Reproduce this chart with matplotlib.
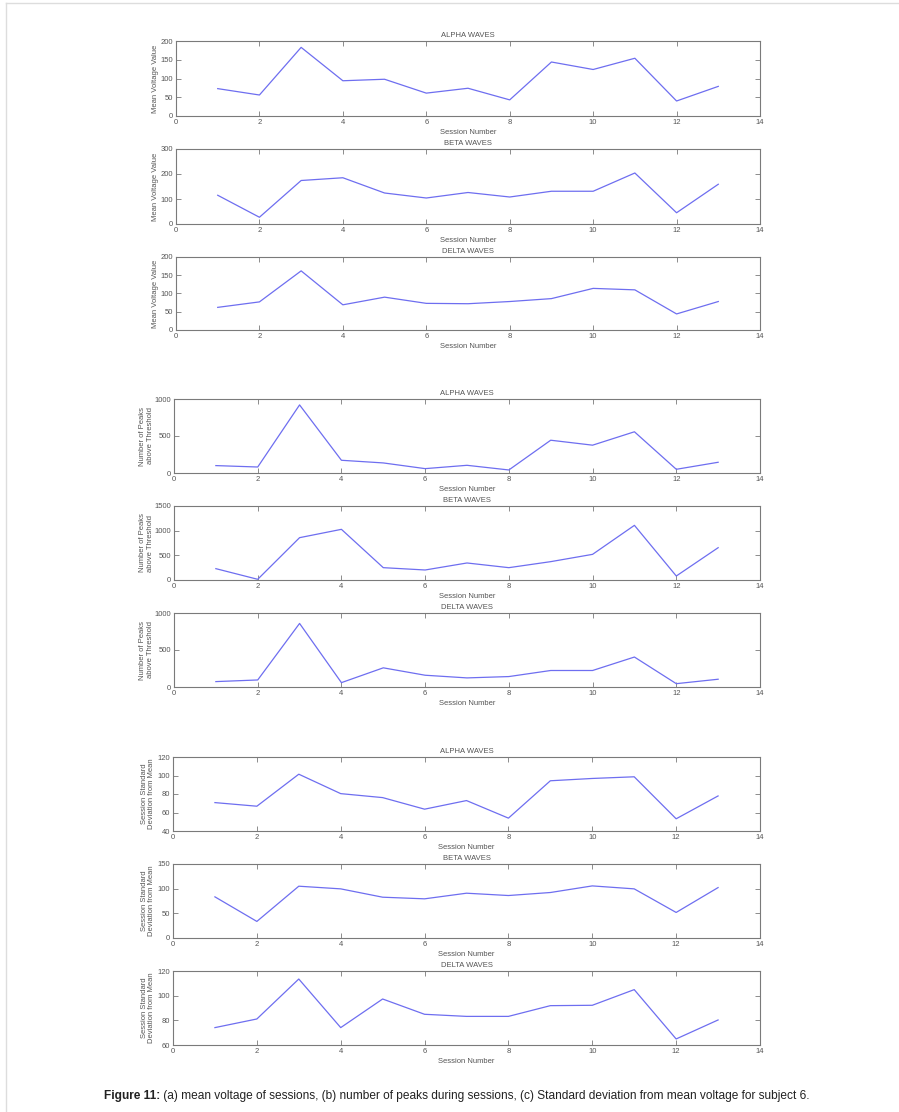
import matplotlib
matplotlib.use("Agg")
import matplotlib.pyplot as plt
from matplotlib.lines import Line2D
from matplotlib import font_manager

# ---------------- data ----------------
sessions = list(range(1, 14))

mean_alpha = [73, 56, 183, 94, 98, 61, 74, 43, 144, 124, 154, 40, 79]
mean_beta = [115, 27, 174, 185, 124, 104, 126, 108, 131, 131, 204, 45, 159]
mean_delta = [62, 77, 162, 69, 90, 73, 72, 78, 86, 114, 110, 44, 78]

peaks_alpha = [100, 81, 920, 172, 136, 59, 104, 41, 443, 376, 557, 50, 145]
peaks_beta = [230, 14, 858, 1027, 250, 203, 345, 250, 372, 520, 1108, 81, 655]
peaks_delta = [73, 95, 859, 59, 259, 159, 123, 141, 223, 223, 405, 45, 105]

std_alpha = [70.7, 66.8, 101.4, 80.4, 76.1, 63.6, 72.9, 53.9, 94.3, 96.8, 98.6, 53.2, 77.9]
std_beta = [83.4, 33.6, 105.0, 99.6, 82.7, 79.4, 90.8, 86.1, 92.2, 105.6, 99.6, 51.8, 102.2]
std_delta = [74.1, 81.1, 113.5, 74.1, 97.3, 84.9, 83.2, 83.2, 91.9, 92.2, 104.9, 64.9, 80.3]

titles = ["ALPHA WAVES", "BETA WAVES", "DELTA WAVES"]
xlabel_text = "Session Number"
ylabels = ["Mean Voltage Value", "Number of Peaks\nabove Threshold",
           "Session Standard\nDeviation from Mean"]
x_ticks = [0, 2, 4, 6, 8, 10, 12, 14]
y_ticks = [
    [0, 50, 100, 150, 200], [0, 100, 200, 300], [0, 50, 100, 150, 200],
    [0, 500, 1000], [0, 500, 1000, 1500], [0, 500, 1000],
    [40, 60, 80, 100, 120], [0, 50, 100, 150], [60, 80, 100, 120],
]
caption_bold = "Figure 11:"
caption_rest = (" (a) mean voltage of sessions, (b) number of peaks during sessions, "
                "(c) Standard deviation from mean voltage for subject 6.")

series = [mean_alpha, mean_beta, mean_delta,
          peaks_alpha, peaks_beta, peaks_delta,
          std_alpha, std_beta, std_delta]

# ---------------- layout ----------------
W, H = 899, 1112
fig = plt.figure(figsize=(W / 100, H / 100), dpi=100)
fig.patch.set_facecolor("white")

avail = {f.name for f in font_manager.fontManager.ttflist}
small_font = ["Liberation Sans Narrow"] if "Liberation Sans Narrow" in avail else []
small_font += ["Liberation Sans", "DejaVu Sans"]

# pixel boxes (left, right, top, bottom)
boxes = [
    (176, 760, 41, 116), (176, 760, 149, 224), (176, 760, 257, 330),
    (174, 760, 399, 473), (174, 760, 506, 580), (174, 760, 613, 687),
    (173, 760, 757, 831), (173, 760, 864, 938), (173, 760, 971, 1045),
]
ylabel_x = [159, 159, 159, 154, 154, 154, 155, 155, 155]

line_color = "#6e6ef0"
frame_color = "#7a7a7a"
text_color = "#555555"

for i, (L, R, T, B) in enumerate(boxes):
    ax = fig.add_axes([L / W, 1 - B / H, (R - L) / W, (B - T) / H])
    ax.plot(sessions, series[i], color=line_color, lw=0.9)
    ax.set_xlim(0, 14)
    yt = y_ticks[i]
    ax.set_ylim(yt[0], yt[-1])
    ax.set_xticks(x_ticks)
    ax.set_yticks(yt)
    ax.set_xticklabels([str(v) for v in x_ticks], fontsize=5.5,
                       family=small_font, color=text_color)
    ax.set_yticklabels([str(v) for v in yt], fontsize=5.5,
                       family=small_font, color=text_color)
    ax.tick_params(direction="in", top=True, right=True, length=3.5,
                   width=0.6, color=frame_color, pad=2)
    for sp in ax.spines.values():
        sp.set_color(frame_color)
        sp.set_linewidth(0.8)
    ax.set_title(titles[i % 3], fontsize=5.5, family=small_font,
                 color=text_color, pad=3)
    ax.set_xlabel(xlabel_text, fontsize=5.5, family=small_font,
                  color=text_color, labelpad=2)
    ax.set_ylabel(ylabels[i // 3], fontsize=5.5, family=small_font,
                  color=text_color, linespacing=1.1)
    ax.yaxis.set_label_coords((ylabel_x[i] - L) / (R - L), 0.5)

# page border (top and left)
fig.add_artist(Line2D([6 / W, 1.0], [1 - 3 / H, 1 - 3 / H],
                      color="#dddddd", lw=1.0, transform=fig.transFigure))
fig.add_artist(Line2D([6 / W, 6 / W], [1 - 3 / H, 0.0],
                      color="#dddddd", lw=1.0, transform=fig.transFigure))

# caption
cap_y = 1 - 1096 / H
renderer = fig.canvas.get_renderer()
t1 = fig.text(0, cap_y, caption_bold, fontsize=8.6, fontweight="bold",
              family=["Liberation Sans", "DejaVu Sans"], va="center", color="#222222")
t2 = fig.text(0, cap_y, caption_rest, fontsize=8.6,
              family=["Liberation Sans", "DejaVu Sans"], va="center", color="#222222")
w1 = t1.get_window_extent(renderer).width
w2 = t2.get_window_extent(renderer).width
start = 457 - (w1 + w2) / 2
t1.set_x(start / W)
t2.set_x((start + w1) / W)

fig.savefig("out.png", dpi=100, facecolor="white")
